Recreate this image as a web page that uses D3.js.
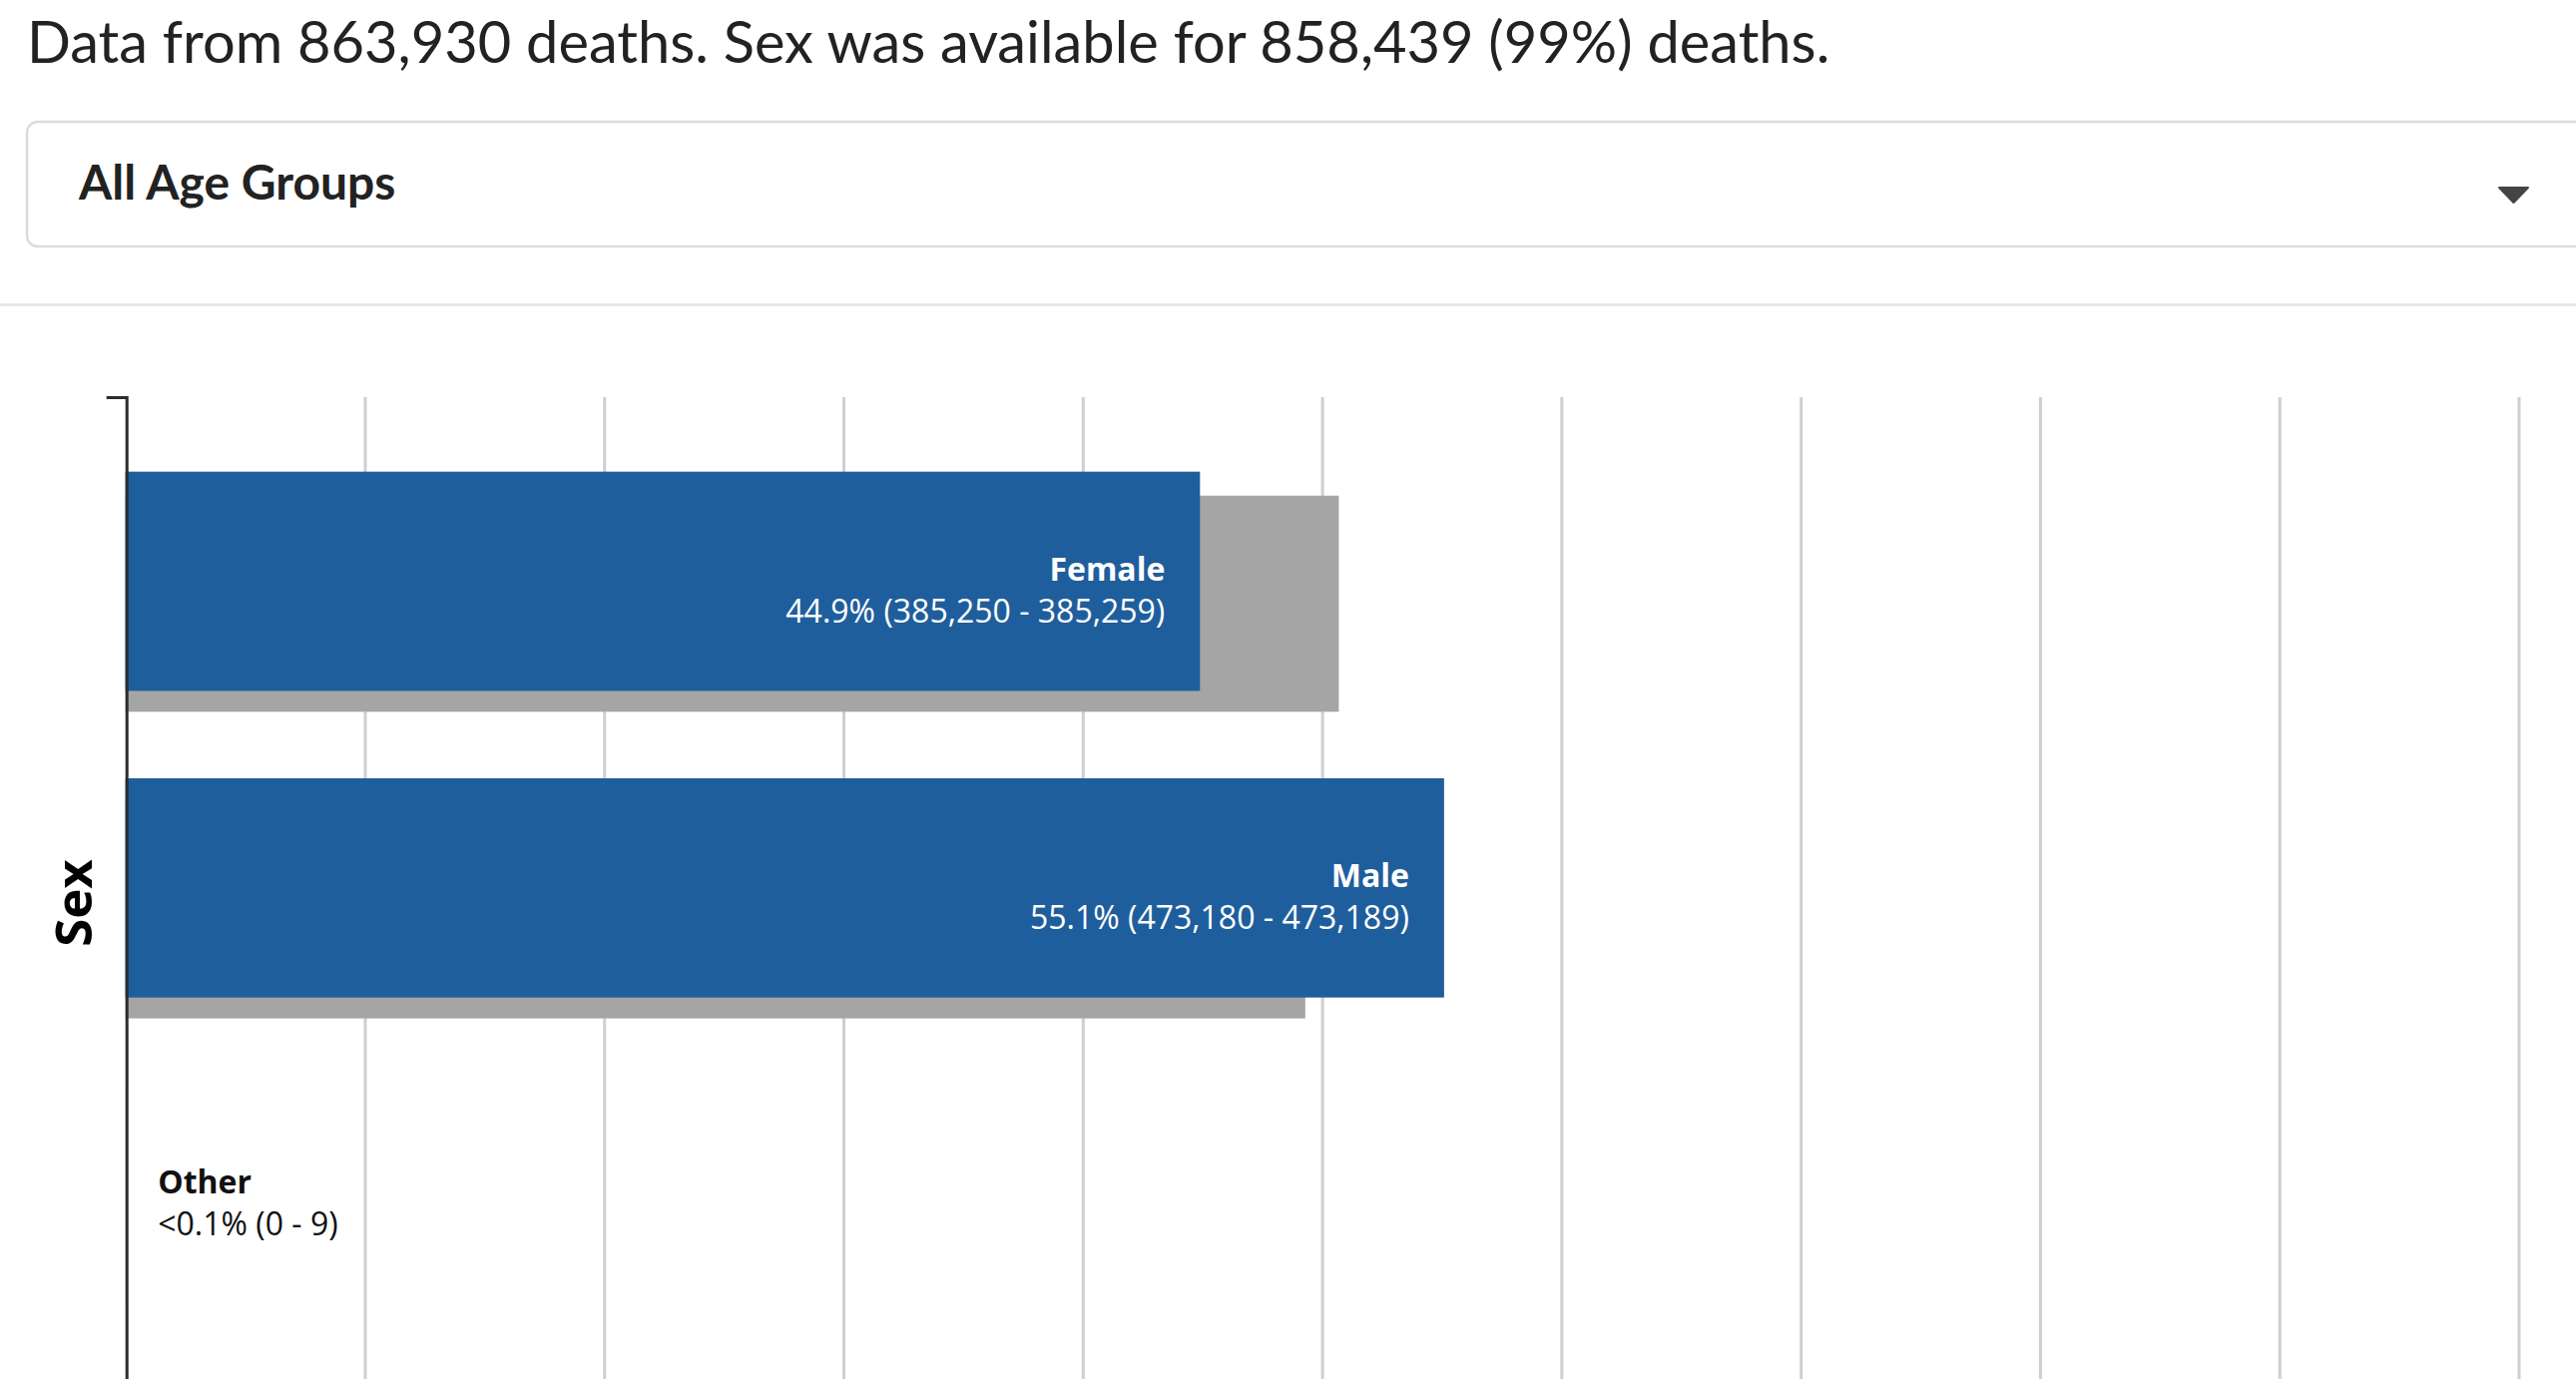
<!DOCTYPE html>
<html>
<head>
<meta charset="utf-8">
<script src="https://cdn.jsdelivr.net/npm/d3@7"></script>
<style>
  html, body { margin: 0; padding: 0; background: #fff; overflow: hidden; }
  svg { display: block; }
</style>
</head>
<body>
<script>
// ---- data ----
const categories = ["Female", "Male", "Other"];
const deathPct = [44.9, 55.1, 0.001];
const populationPct = [50.7, 49.3, null];
const pctLabels = ["44.9%", "55.1%", "<0.1%"];
const countLow = [385250, 473180, 0];
const countHigh = [385259, 473189, 9];
const xTicks = [0, 10, 20, 30, 40, 50, 60, 70, 80, 90, 100];
const titleText = "Data from 863,930 deaths. Sex was available for 858,439 (99%) deaths.";
const dropdownText = "All Age Groups";
const yAxisTitle = "Sex";

const W = 2581, H = 1382;
const svg = d3.select("body").append("svg").attr("width", W).attr("height", H);

// header
svg.append("text").attr("x", 27).attr("y", 63)
  .attr("font-family", "Lato").attr("font-size", 57.8).attr("fill", "#222")
  .text(titleText);

svg.append("rect").attr("x", 27).attr("y", 122).attr("width", 2580 - 27 + 12).attr("height", 125)
  .attr("rx", 11).attr("fill", "#fff").attr("stroke", "#dcdcdc").attr("stroke-width", 2.5);
svg.append("text").attr("x", 79).attr("y", 200)
  .attr("font-family", "Lato").attr("font-weight", 700).attr("font-size", 48).attr("fill", "#222")
  .text(dropdownText);
svg.append("path").attr("d", "M2504,188 L2533,188 L2518.5,203 Z").attr("fill", "#444")
  .attr("stroke", "#444").attr("stroke-width", 2).attr("stroke-linejoin", "round");

svg.append("line").attr("x1", 0).attr("x2", W).attr("y1", 305.5).attr("y2", 305.5)
  .attr("stroke", "#e3e3e3").attr("stroke-width", 2.5);

// scales
const x = d3.scaleLinear().domain([0, 100]).range([125.7, 2523.5]);
const y = d3.scaleBand().domain(categories).range([398, 1402.6]).paddingInner(0.217).paddingOuter(0.243);
const bw = y.bandwidth();

// gridlines
const gx = svg.append("g").attr("transform", `translate(0,398)`)
  .call(d3.axisBottom(x).tickValues(xTicks.slice(1)).tickSize(H).tickFormat(""));
gx.select(".domain").remove();
gx.selectAll(".tick line").attr("stroke", "#cfcfcf").attr("stroke-width", 3);

const rows = categories.map((c, i) => ({
  cat: c, v: deathPct[i], pop: populationPct[i], pl: pctLabels[i], lo: countLow[i], hi: countHigh[i]
}));

// population (gray) bars
svg.append("g").selectAll("rect").data(rows.filter(d => d.pop != null)).join("rect")
  .attr("x", x(0)).attr("y", d => y(d.cat) + bw * 0.1)
  .attr("width", d => x(d.pop) - x(0)).attr("height", bw * 0.9)
  .attr("fill", "#a5a5a5");

// death (blue) bars
svg.append("g").selectAll("rect").data(rows).join("rect")
  .attr("x", x(0)).attr("y", d => y(d.cat))
  .attr("width", d => x(d.v) - x(0)).attr("height", bw * 0.913)
  .attr("fill", "#1f5e9c");

// labels
const fmt = d3.format(",");
const lab = svg.append("g").selectAll("g").data(rows).join("g")
  .attr("transform", d => {
    const inside = x(d.v) - x(0) > 500;
    const cx = inside ? x(d.v) - 35 : x(d.v) + 32.5;
    return `translate(${cx},${y(d.cat) + bw * 0.913 / 2})`;
  });
lab.each(function(d) {
  const inside = x(d.v) - x(0) > 500;
  const g = d3.select(this);
  const col = inside ? "#fff" : "#111";
  const anchor = inside ? "end" : "start";
  g.append("text").attr("y", -1).attr("text-anchor", anchor)
    .attr("font-family", "Open Sans").attr("font-weight", 700).attr("font-size", 32).attr("fill", col)
    .text(d.cat);
  g.append("text").attr("y", 41).attr("text-anchor", anchor)
    .attr("font-family", "Open Sans").attr("font-size", 32).attr("fill", col)
    .text(`${d.pl} (${fmt(d.lo)} - ${fmt(d.hi)})`);
});

// y axis
const ga = svg.append("g").attr("transform", `translate(${x(0) + 1},0)`)
  .call(d3.axisLeft(y).tickSize(0).tickSizeOuter(20).tickFormat(""));
ga.select(".domain").attr("stroke", "#2a2d30").attr("stroke-width", 3);

svg.append("text")
  .attr("transform", `translate(91.5,905) rotate(-90)`)
  .attr("text-anchor", "middle")
  .attr("font-family", "Open Sans").attr("font-weight", 700).attr("font-size", 51).attr("fill", "#000")
  .text(yAxisTitle);
</script>
</body>
</html>
